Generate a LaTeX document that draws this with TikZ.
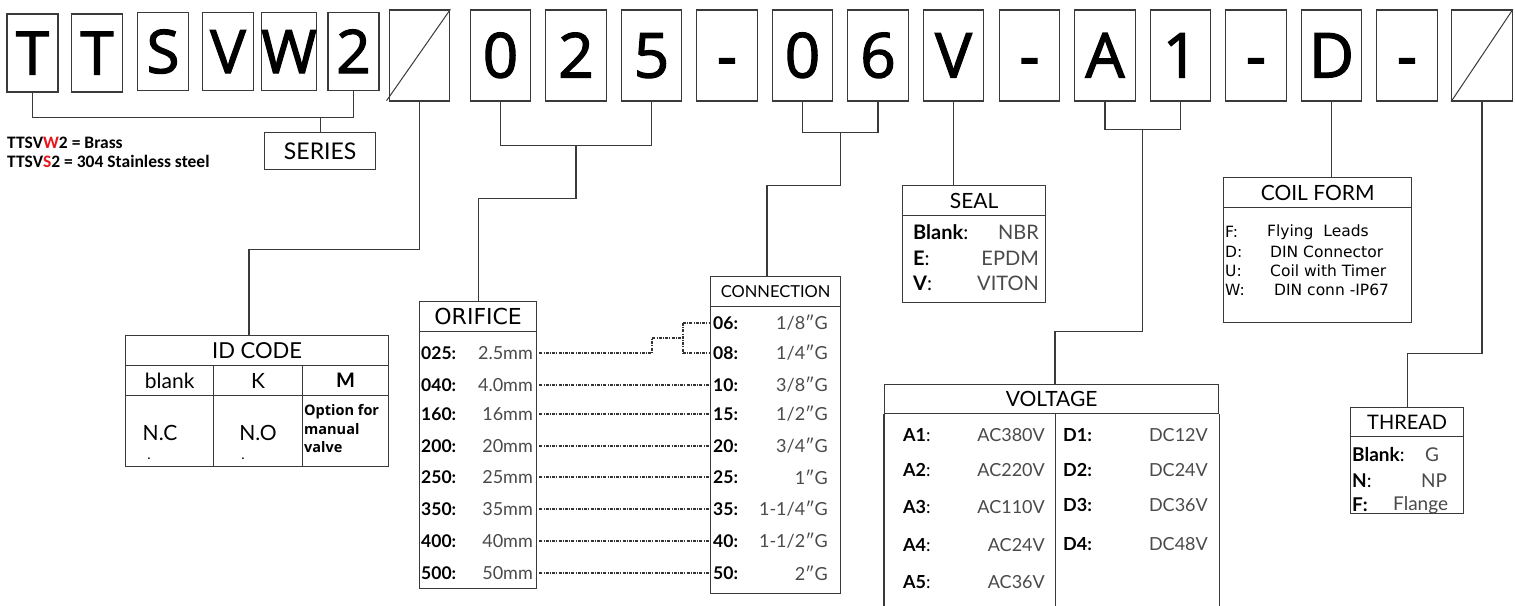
\documentclass[tikz,border=0pt]{standalone}
\usepackage{fontspec}
\setmainfont{Open Sans}
\newfontfamily\topfont[FakeBold=2]{Open Sans}
\newfontfamily\lato{Lato}
\newfontfamily\dvs{DejaVu Sans}
\newfontfamily\carl{Carlito}
\usetikzlibrary{calc}
\definecolor{ln}{HTML}{3A3A3A}
\definecolor{val}{HTML}{4A4A4A}
\definecolor{rd}{HTML}{E8151B}
\begin{document}
\begin{tikzpicture}[x=1pt,y=-1pt,
  lbox/.style={draw=ln,line width=1.3pt,minimum width=51pt,minimum height=78pt,inner sep=0pt,text height=43pt,text depth=0pt,font=\topfont\fontsize{60}{60}\selectfont},
  cbox/.style={draw=ln,line width=1.3pt,minimum width=60.5pt,minimum height=91pt,inner sep=0pt,text height=44pt,text depth=0pt,font=\topfont\fontsize{62}{62}\selectfont},
  conn/.style={draw=ln,line width=1.2pt},
  dl/.style={draw=ln!90!black,line width=1.1pt,dash pattern=on 3pt off 1.2pt on 1pt off 1.2pt},
  frame/.style={draw=ln,line width=1.3pt,inner sep=0pt,anchor=north west},
  hd/.style={font=\lato\fontsize{21}{21}\selectfont},
  lab/.style={anchor=west,inner sep=0pt,font=\lato\bfseries\fontsize{17.5}{17.5}\selectfont},
  vl/.style={anchor=east,inner sep=0pt,text=val,font=\lato\fontsize{18}{18}\selectfont},
  cf/.style={anchor=west,inner sep=0pt,font=\dvs\fontsize{15.5}{15.5}\selectfont},
]
\useasboundingbox (0,0) rectangle (1515,605);
\fill[white] (0,0) rectangle (1515,605);

% top code boxes
\node[lbox] (t1) at (32.5,53) {T};
\node[lbox] (t2) at (97,53) {T};
\node[lbox] (s) at (163,51.5) {S};
\node[lbox] (v) at (228,51.5) {V};
\node[lbox] (w) at (289,51.5) {W};
\node[lbox] (n2) at (353.5,51.5) {2};
\node[cbox] (sl1) at (419.5,55.5) {};
\node[cbox] (o0) at (500.5,55.5) {0};
\node[cbox] (o2) at (576,55.5) {2};
\node[cbox] (o5) at (651.5,55.5) {5};
\node[cbox] (h1) at (727,55.5) {-};
\node[cbox] (c0) at (802.5,55.5) {0};
\node[cbox] (c6) at (878,55.5) {6};
\node[cbox] (sv) at (953.5,55.5) {V};
\node[cbox] (h2) at (1029.5,55.5) {-};
\node[cbox] (va) at (1105,55.5) {A};
\node[cbox] (v1) at (1180.5,55.5) {1};
\node[cbox] (h3) at (1256,55.5) {-};
\node[cbox] (cd) at (1331.5,55.5) {D};
\node[cbox] (h4) at (1407,55.5) {-};
\node[cbox] (sl2) at (1482,55.5) {};
\draw[conn,line width=1pt] (sl1.south west) ++(-2,-1) -- (sl1.north east);
\draw[conn,line width=1pt] (sl2.south west) -- (sl2.north east);

% series
\node[frame,minimum width=111pt,minimum height=37pt,font=\lato\fontsize{23}{23}\selectfont] (series) at (264,132) {SERIES};
\draw[conn] (t1.south) -- ++(0,25) -| (n2.south);
\draw[conn] (series.north) -- ++(0,-15);
\node[anchor=base west,inner sep=0pt,font=\carl\bfseries\fontsize{17.5}{17.5}\selectfont] (mat1) at (7,148) {TTSV\textcolor{rd}{W}2 = Brass};
\node[anchor=base west,inner sep=0pt,font=\carl\bfseries\fontsize{17.5}{17.5}\selectfont] (mat2) at (7,167) {TTSV\textcolor{rd}{S}2 = 304 Stainless steel};

% ID code table
\node[frame,minimum width=263pt,minimum height=30pt,font=\lato\fontsize{22}{22}\selectfont] (idh) at (125,335) {ID CODE};
\node[frame,minimum width=88pt,minimum height=30pt,font=\lato\fontsize{21}{21}\selectfont] (idb) at (125,365) {blank};
\node[frame,minimum width=89pt,minimum height=30pt,font=\lato\fontsize{21}{21}\selectfont] (idk) at (213,365) {K};
\node[frame,minimum width=86pt,minimum height=30pt,font=\lato\bfseries\fontsize{20}{20}\selectfont] (idm) at (302,365) {M};
\node[frame,minimum width=88pt,minimum height=71pt] (idb2) at (125,395) {};
\node[frame,minimum width=89pt,minimum height=71pt] (idk2) at (213,395) {};
\node[frame,minimum width=86pt,minimum height=71pt] (idm2) at (302,395) {};
\node[inner sep=0pt,font=\lato\fontsize{21}{21}\selectfont] (nc) at (160,433) {N.C};
\node[inner sep=0pt,font=\lato\fontsize{21}{21}\selectfont] (no) at (258,433) {N.O};
\node[inner sep=0pt,font=\lato\fontsize{14}{14}\selectfont] (dot1) at (149,459) {.};
\node[inner sep=0pt,font=\lato\fontsize{14}{14}\selectfont] (dot2) at (243,459) {.};
\node[anchor=west,inner sep=0pt,align=left,font=\bfseries\fontsize{14.5}{18.5}\selectfont] (opt) at (304,429) {Option for\\manual\\valve};
\coordinate (idin) at (249,335);
\draw[conn] (sl1.south) -- ++(0,148) -| (idin);

% orifice
\node[frame,minimum width=117pt,minimum height=30pt,font=\dvs\fontsize{22}{22}\selectfont] (orh) at (419,301) {ORIFICE};
\node[frame,minimum width=117pt,minimum height=257pt] (orb) at (419,331) {};
\draw[conn] (o0.south) -- ++(0,44) coordinate (b1) -| (o5.south);
\draw[conn] (o2.south |- b1) -- ++(0,53) -| (orh.north);

% connection
\node[frame,minimum width=130pt,minimum height=30pt,font=\lato\fontsize{16.5}{16.5}\selectfont] (conh) at (710,276) {CONNECTION};
\node[frame,minimum width=130pt,minimum height=287pt] (conb) at (710,306) {};
\coordinate (cin) at (767,276);
\draw[conn] (c0.south) -- ++(0,31) -| (c6.south);
\draw[conn] ($(c0.south)!0.5!(c6.south)+(0,31)$) -- ++(0,53) -| (cin);

\foreach \y/\a/\b in {353/025/2.5mm,385/040/4.0mm,414/160/16mm,446/200/20mm,477/250/25mm,509/350/35mm,541/400/40mm,573/500/50mm}{
  \node[lab] at (421,\y) {\a:};
  \node[vl] at (533,\y) {\b};
}
\foreach \y/\a/\b in {323/06/{1/8″G},353/08/{1/4″G},385/10/{3/8″G},414/15/{1/2″G},446/20/{3/4″G},477/25/{1″G},509/35/{1-1/4″G},541/40/{1-1/2″G},573/50/{2″G}}{
  \node[lab] at (713,\y) {\a:};
  \node[vl] at (828,\y) {\b};
}
\foreach \y in {385,414,446,477,509,541,573}{
  \draw[dl] (orb.east |- 0,\y) ++(2,0) -- (conb.west |- 0,\y);
}
\draw[dl] (orb.east |- 0,353) ++(2,0) -- (652,353) -- (652,338) -- (683,338);
\draw[dl] (683,323) -- (683,353);
\draw[dl] (683,323) -- (conb.west |- 0,323);
\draw[dl] (683,353) -- (conb.west |- 0,353);

% seal
\node[frame,minimum width=143pt,minimum height=30pt,hd] (sealh) at (902,185) {SEAL};
\node[frame,minimum width=143pt,minimum height=87pt] (sealb) at (902,215) {};
\draw[conn] (sv.south) -- (sv.south |- sealh.north);
\foreach \y/\a/\b in {232/Blank/NBR,258/E/EPDM,283/V/VITON}{
  \node[anchor=west,inner sep=0pt,font=\lato\fontsize{20}{20}\selectfont] at (913,\y) {\textbf{\a}:};
  \node[anchor=east,inner sep=0pt,text=val,font=\lato\fontsize{20}{20}\selectfont] at (1039,\y) {\b};
}

% voltage
\node[frame,minimum width=334pt,minimum height=29pt,hd] (vh) at (884,384) {VOLTAGE};
\draw[conn,line width=1.3pt] (vh.south west) -- ++(0,192);
\draw[conn,line width=1.3pt] (vh.south east) -- ++(0,192);
\draw[conn,line width=1.3pt] (vh.south) ++(4,0) -- ++(0,192);
\coordinate (vin) at (1055,384);
\draw[conn] (va.south) -- ++(0,28) -| (v1.south);
\draw[conn] ($(va.south)!0.5!(v1.south)+(0,28)$) -- ++(0,202) -| (vin);
\foreach \y/\a/\b in {435/A1/AC380V,470/A2/AC220V,507/A3/AC110V,545/A4/AC24V,582/A5/AC36V}{
  \node[anchor=west,inner sep=0pt,font=\lato\fontsize{18}{18}\selectfont] at (903,\y) {\textbf{\a}:};
  \node[vl] at (1045,\y) {\b};
}
\foreach \y/\a/\b in {435/D1:/DC12V,470/D2:/DC24V,505/D3:/DC36V,544/D4:/DC48V}{
  \node[anchor=west,inner sep=0pt,font=\lato\bfseries\fontsize{18}{18}\selectfont] at (1063,\y) {\a};
  \node[vl] at (1208,\y) {\b};
}

% coil form
\node[frame,minimum width=188pt,minimum height=30pt,hd] (coilh) at (1223,177) {COIL FORM};
\node[frame,minimum width=188pt,minimum height=115pt] (coilb) at (1223,207) {};
\draw[conn] (cd.south) -- (cd.south |- coilh.north);
\node[cf] at (1225,232) {F:};
\node[cf] at (1267,232) {Flying\ \ Leads};
\node[cf] at (1225,252) {D:};
\node[cf] at (1270,252) {DIN Connector};
\node[cf] at (1225,271) {U:};
\node[cf] at (1270,271) {Coil with Timer};
\node[cf] at (1225,290) {W:};
\node[cf] at (1274,290) {DIN conn -IP67};

% thread
\node[frame,minimum width=113pt,minimum height=29pt,font=\lato\fontsize{20}{20}\selectfont] (thh) at (1350,407) {THREAD};
\node[frame,minimum width=113pt,minimum height=77pt] (thb) at (1350,436) {};
\draw[conn] (sl2.south) -- ++(0,252) -| (thh.north);
\node[anchor=west,inner sep=0pt,font=\lato\fontsize{19}{19}\selectfont] at (1352,455) {\textbf{Blank}:};
\node[inner sep=0pt,text=val,font=\lato\fontsize{19}{19}\selectfont] at (1432,455) {G};
\node[anchor=west,inner sep=0pt,font=\lato\fontsize{19}{19}\selectfont] at (1352,481) {\textbf{N}:};
\node[inner sep=0pt,text=val,font=\lato\fontsize{19}{19}\selectfont] at (1434,481) {NP};
\node[anchor=west,inner sep=0pt,font=\lato\bfseries\fontsize{19}{19}\selectfont] at (1352,505) {F:};
\node[anchor=west,inner sep=0pt,text=val,font=\lato\fontsize{19}{19}\selectfont] at (1393,505) {Flange};
\end{tikzpicture}
\end{document}
